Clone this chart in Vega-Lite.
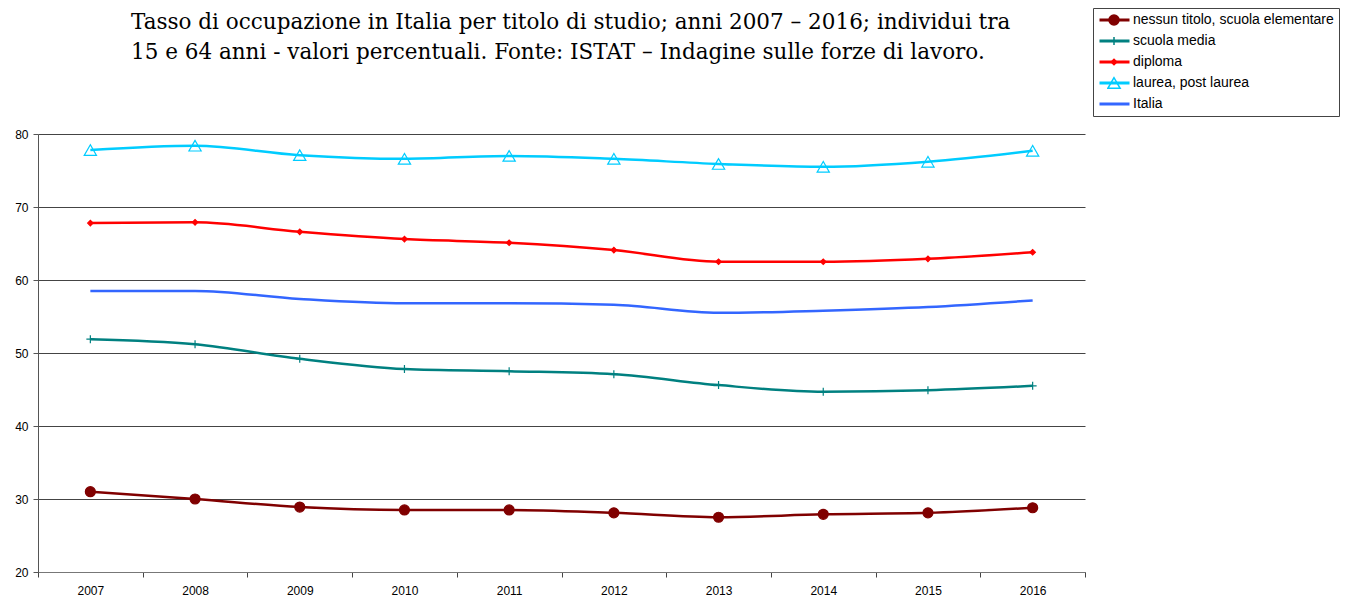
{
  "$schema": "https://vega.github.io/schema/vega-lite/v6.json",
  "autosize": "none",
  "width": 1047,
  "height": 438,
  "padding": {"left": 38, "top": 134, "right": 264, "bottom": 30},
  "background": "white",
  "config": {"view": {"stroke": null}},
  "title": {
    "text": ["Tasso di occupazione in Italia per titolo di studio; anni 2007 – 2016; individui tra", "15 e 64 anni - valori percentuali. Fonte: ISTAT – Indagine sulle forze di lavoro."],
    "anchor": "start",
    "frame": "group",
    "dx": 93,
    "offset": -56,
    "font": "DejaVu Serif",
    "fontSize": 21.5,
    "fontWeight": "normal",
    "lineHeight": 30,
    "color": "#000"
  },
  "data": {"values": [
    {"anno": "2007", "serie": "nessun titolo, scuola elementare", "valore": 31.0},
    {"anno": "2008", "serie": "nessun titolo, scuola elementare", "valore": 30.0},
    {"anno": "2009", "serie": "nessun titolo, scuola elementare", "valore": 28.9},
    {"anno": "2010", "serie": "nessun titolo, scuola elementare", "valore": 28.5},
    {"anno": "2011", "serie": "nessun titolo, scuola elementare", "valore": 28.5},
    {"anno": "2012", "serie": "nessun titolo, scuola elementare", "valore": 28.1},
    {"anno": "2013", "serie": "nessun titolo, scuola elementare", "valore": 27.5},
    {"anno": "2014", "serie": "nessun titolo, scuola elementare", "valore": 27.9},
    {"anno": "2015", "serie": "nessun titolo, scuola elementare", "valore": 28.1},
    {"anno": "2016", "serie": "nessun titolo, scuola elementare", "valore": 28.8},
    {"anno": "2007", "serie": "scuola media", "valore": 51.9},
    {"anno": "2008", "serie": "scuola media", "valore": 51.2},
    {"anno": "2009", "serie": "scuola media", "valore": 49.2},
    {"anno": "2010", "serie": "scuola media", "valore": 47.8},
    {"anno": "2011", "serie": "scuola media", "valore": 47.5},
    {"anno": "2012", "serie": "scuola media", "valore": 47.1},
    {"anno": "2013", "serie": "scuola media", "valore": 45.6},
    {"anno": "2014", "serie": "scuola media", "valore": 44.7},
    {"anno": "2015", "serie": "scuola media", "valore": 44.9},
    {"anno": "2016", "serie": "scuola media", "valore": 45.5},
    {"anno": "2007", "serie": "diploma", "valore": 67.8},
    {"anno": "2008", "serie": "diploma", "valore": 67.9},
    {"anno": "2009", "serie": "diploma", "valore": 66.6},
    {"anno": "2010", "serie": "diploma", "valore": 65.6},
    {"anno": "2011", "serie": "diploma", "valore": 65.1},
    {"anno": "2012", "serie": "diploma", "valore": 64.1},
    {"anno": "2013", "serie": "diploma", "valore": 62.5},
    {"anno": "2014", "serie": "diploma", "valore": 62.5},
    {"anno": "2015", "serie": "diploma", "valore": 62.9},
    {"anno": "2016", "serie": "diploma", "valore": 63.8},
    {"anno": "2007", "serie": "laurea, post laurea", "valore": 77.8},
    {"anno": "2008", "serie": "laurea, post laurea", "valore": 78.4},
    {"anno": "2009", "serie": "laurea, post laurea", "valore": 77.1},
    {"anno": "2010", "serie": "laurea, post laurea", "valore": 76.6},
    {"anno": "2011", "serie": "laurea, post laurea", "valore": 77.0},
    {"anno": "2012", "serie": "laurea, post laurea", "valore": 76.6},
    {"anno": "2013", "serie": "laurea, post laurea", "valore": 75.9},
    {"anno": "2014", "serie": "laurea, post laurea", "valore": 75.5},
    {"anno": "2015", "serie": "laurea, post laurea", "valore": 76.2},
    {"anno": "2016", "serie": "laurea, post laurea", "valore": 77.7},
    {"anno": "2007", "serie": "Italia", "valore": 58.5},
    {"anno": "2008", "serie": "Italia", "valore": 58.5},
    {"anno": "2009", "serie": "Italia", "valore": 57.4},
    {"anno": "2010", "serie": "Italia", "valore": 56.8},
    {"anno": "2011", "serie": "Italia", "valore": 56.8},
    {"anno": "2012", "serie": "Italia", "valore": 56.6},
    {"anno": "2013", "serie": "Italia", "valore": 55.5},
    {"anno": "2014", "serie": "Italia", "valore": 55.8},
    {"anno": "2015", "serie": "Italia", "valore": 56.3},
    {"anno": "2016", "serie": "Italia", "valore": 57.2}
  ]},
  "encoding": {
    "x": {
      "field": "anno", "type": "ordinal",
      "scale": {"type": "band", "paddingInner": 0, "paddingOuter": 0},
      "axis": {
        "title": null, "labelAngle": 0, "tickBand": "extent",
        "labelFont": "Liberation Sans", "labelFontSize": 12, "labelColor": "#000",
        "labelPadding": 8,
        "domainColor": "#777", "tickColor": "#444", "tickSize": 5, "grid": false
      }
    },
    "y": {
      "field": "valore", "type": "quantitative",
      "scale": {"domain": [20, 80], "nice": false, "zero": false},
      "axis": {
        "title": null, "values": [20, 30, 40, 50, 60, 70, 80],
        "labelFont": "Liberation Sans", "labelFontSize": 12, "labelColor": "#000",
        "labelPadding": 5,
        "domainColor": "#555", "tickColor": "#555", "tickSize": 5,
        "grid": true, "gridColor": "#444", "gridWidth": 1
      }
    }
  },
  "layer": [
    {
      "mark": {"type": "line", "interpolate": "monotone", "strokeWidth": 2.5},
      "encoding": {
        "color": {
          "field": "serie", "type": "nominal",
          "scale": {
            "domain": ["nessun titolo, scuola elementare", "scuola media", "diploma", "laurea, post laurea", "Italia"],
            "range": ["#800000", "#008080", "#ff0000", "#00ccff", "#3366ff"]
          },
          "legend": {
            "title": null, "orient": "none", "legendX": 1055, "legendY": -126,
            "symbolType": "stroke", "symbolSize": 900, "symbolStrokeWidth": 3,
            "labelFont": "Liberation Sans", "labelFontSize": 14, "labelColor": "#000",
            "labelOffset": 2, "labelLimit": 400, "clipHeight": 14, "rowPadding": 7,
            "strokeColor": "#444", "fillColor": "white", "padding": 5
          }
        }
      }
    },
    {
      "transform": [{"filter": "datum.serie !== 'Italia'"}],
      "mark": {"type": "point", "filled": false, "strokeWidth": 1.2, "opacity": 1},
      "encoding": {
        "stroke": {
          "field": "serie", "type": "nominal",
          "scale": {
            "domain": ["nessun titolo, scuola elementare", "scuola media", "diploma", "laurea, post laurea"],
            "range": ["#800000", "#008080", "#ff0000", "#00ccff"]
          },
          "legend": {
            "title": null, "orient": "none", "legendX": 1064, "legendY": -126,
            "labelExpr": "''", "clipHeight": 14, "rowPadding": 7, "padding": 5,
            "labelFontSize": 14, "labelOffset": 4
          }
        },
        "fill": {
          "field": "serie", "type": "nominal",
          "scale": {
            "domain": ["nessun titolo, scuola elementare", "scuola media", "diploma", "laurea, post laurea"],
            "range": ["#800000", "transparent", "#ff0000", "transparent"]
          }
        },
        "shape": {
          "field": "serie", "type": "nominal",
          "scale": {
            "domain": ["nessun titolo, scuola elementare", "scuola media", "diploma", "laurea, post laurea"],
            "range": ["circle", "M-1,0H1M0,-1V1", "diamond", "triangle-up"]
          }
        },
        "size": {
          "field": "serie", "type": "nominal",
          "scale": {
            "type": "ordinal",
            "domain": ["nessun titolo, scuola elementare", "scuola media", "diploma", "laurea, post laurea"],
            "range": [100, 64, 30, 150]
          }
        }
      }
    }
  ]
}
